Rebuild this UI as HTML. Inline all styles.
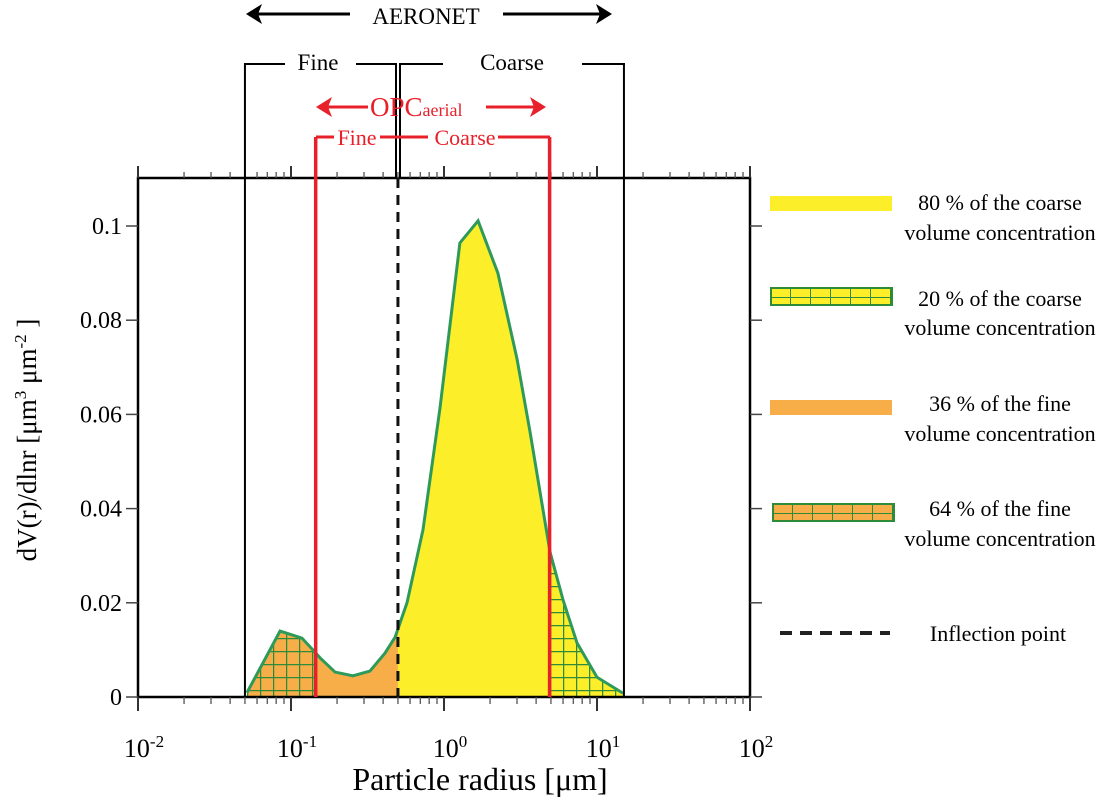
<!DOCTYPE html>
<html><head><meta charset="utf-8">
<style>
body{margin:0;background:#fff;width:1115px;height:801px;overflow:hidden}
svg text, text, tspan{font-family:"Liberation Serif","DejaVu Serif",serif}
</style></head>
<body>
<svg id="chart" width="1115" height="801" viewBox="0 0 1115 801" xmlns="http://www.w3.org/2000/svg" font-family="Liberation Serif, serif">
<defs>
<pattern id="hatchO" patternUnits="userSpaceOnUse" width="13" height="13" x="0" y="1">
<rect width="13" height="13" fill="#f8ae48"/><path d="M0 0H13M0 0V13" stroke="#2e8b3a" stroke-width="2.5"/>
</pattern>
<pattern id="hatchY" patternUnits="userSpaceOnUse" width="13" height="13" x="4" y="1">
<rect width="13" height="13" fill="#fdee2a"/><path d="M0 0H13M0 0V13" stroke="#2e8b3a" stroke-width="2.5"/>
</pattern>
<pattern id="legO" patternUnits="userSpaceOnUse" width="20" height="9" x="772" y="504">
<rect width="20" height="9" fill="#f8ae48"/><path d="M0 0H20M0 0V9" stroke="#2e8b3a" stroke-width="2"/>
</pattern>
<pattern id="legY" patternUnits="userSpaceOnUse" width="20" height="9" x="770" y="288">
<rect width="20" height="9" fill="#fdee2a"/><path d="M0 0H20M0 0V9" stroke="#2e8b3a" stroke-width="2"/>
</pattern>
</defs>
<g id="plot"></g>
</svg>
<script>
// data
const radii = [0.0515,0.0848,0.118,0.139,0.155,0.194,0.254,0.328,0.411,0.479,0.573,0.729,0.942,1.27,1.67,2.25,3.0,3.65,4.93,6.0,7.4,10,14.8];
const dvdlnr = [0.0009,0.0140,0.0125,0.0100,0.0083,0.0053,0.0045,0.0055,0.0093,0.0127,0.0200,0.0355,0.0614,0.0964,0.1011,0.0900,0.0718,0.0563,0.0308,0.0206,0.0115,0.0042,0.0008];
const yTicks = [0,0.02,0.04,0.06,0.08,0.1];
const yTickLabels = ["0","0.02","0.04","0.06","0.08","0.1"];
const xDecades = [-2,-1,0,1,2];
const aeronetBounds = [0.05,0.5,15];
const opcBounds = [0.145,0.5,4.9];
const inflection = 0.5;

const NS="http://www.w3.org/2000/svg";
const X0=138,X1=750,Y0=697,YT=178;
const xs=r=>X0+(Math.log10(r)+2)*(X1-X0)/4;
const ys=v=>Y0-v*4710;
const g=document.getElementById('plot');
function mk(tag,attrs,parent){const e=document.createElementNS(NS,tag);for(const k in attrs)e.setAttribute(k,attrs[k]);(parent||g).appendChild(e);return e;}

const pts=radii.map((r,i)=>xs(r)+','+ys(dvdlnr[i])).join(' ');
const areaPts=xs(radii[0])+','+Y0+' '+pts+' '+xs(radii[radii.length-1])+','+Y0;
const regions=[[aeronetBounds[0],opcBounds[0],'url(#hatchO)','fine-64-region'],[opcBounds[0],inflection,'#f8ae48','fine-36-region'],[inflection,opcBounds[2],'#fdee2a','coarse-80-region'],[opcBounds[2],aeronetBounds[2],'url(#hatchY)','coarse-20-region']];
regions.forEach((rg,i)=>{
  const cp=mk('clipPath',{id:'cp'+i});
  mk('rect',{x:xs(rg[0]),y:0,width:xs(rg[1])-xs(rg[0]),height:801},cp);
  const p=mk('polygon',{points:areaPts,fill:rg[2],'clip-path':'url(#cp'+i+')'});
  
  
});
const line=mk('polyline',{points:pts,fill:'none',stroke:'#2e9a5a','stroke-width':3});



const fr=mk('rect',{x:X0,y:YT,width:X1-X0,height:Y0-YT,fill:'none',stroke:'#000','stroke-width':2.5});



yTicks.forEach((v,i)=>{
  mk('line',{x1:X0-12,x2:X0,y1:ys(v),y2:ys(v),stroke:'#444','stroke-width':1.5});
  mk('line',{x1:X1,x2:X1+12,y1:ys(v),y2:ys(v),stroke:'#444','stroke-width':1.5});
  const t=mk('text',{x:X0-16,y:ys(v)+8,'text-anchor':'end','font-size':24,'font-family':'Liberation Serif, serif'});
  t.textContent=yTickLabels[i];
  
  
});
xDecades.forEach((d,i)=>{
  const x=xs(Math.pow(10,d));
  mk('line',{x1:x,x2:x,y1:Y0,y2:Y0+14,stroke:'#333','stroke-width':2});
  mk('line',{x1:x,x2:x,y1:YT,y2:YT-12,stroke:'#333','stroke-width':2});
  const t=mk('text',{x:x+6,y:Y0+60,'text-anchor':'middle','font-size':26,'font-family':'Liberation Serif, serif'});
  t.textContent='10';
  const s=mk('tspan',{dy:-10,'font-size':17},t);s.textContent=String(d);
  
  
  if(i<xDecades.length-1)for(let m=2;m<10;m++){
    const xm=xs(m*Math.pow(10,d));
    mk('line',{x1:xm,x2:xm,y1:Y0,y2:Y0+7,stroke:'#555','stroke-width':1.3});
    mk('line',{x1:xm,x2:xm,y1:YT,y2:YT-6,stroke:'#555','stroke-width':1.3});
  }
});

[[aeronetBounds[0],63],[aeronetBounds[2],63]].forEach(b=>{const l=mk('line',{x1:xs(b[0]),x2:xs(b[0]),y1:b[1],y2:Y0,stroke:'#000','stroke-width':2});});
[opcBounds[0],opcBounds[2]].forEach(b=>{const l=mk('line',{x1:xs(b),x2:xs(b),y1:137,y2:Y0,stroke:'#e8202a','stroke-width':3.5});});
const inf=mk('line',{x1:xs(inflection),x2:xs(inflection),y1:YT,y2:Y0,stroke:'#111','stroke-width':3,'stroke-dasharray':'10,7'});


</script>
<svg style="position:absolute;left:0;top:0" width="1115" height="801" font-family="Liberation Serif, serif">
<g stroke="#000" stroke-width="3" fill="#000">
<line x1="256" y1="14" x2="350" y2="14"/><path d="M246 14 L262 4 L258 14 L262 24Z" stroke="none"/>
<line x1="503" y1="14" x2="600" y2="14"/><path d="M612 14 L596 4 L600 14 L596 24Z" stroke="none"/>
</g>
<text x="426" y="24" text-anchor="middle" font-size="23" font-family="Liberation Serif, serif">AERONET</text>
<g stroke="#000" stroke-width="2" fill="none">
<path d="M245 64 H285"/><path d="M356 64 H396 V178"/><path d="M400 178 V64 H443"/><path d="M582 64 H625"/>
</g>
<text x="318" y="70" text-anchor="middle" font-size="23" font-family="Liberation Serif, serif">Fine</text>
<text x="512" y="70" text-anchor="middle" font-size="23" font-family="Liberation Serif, serif">Coarse</text>
<g stroke="#e8202a" stroke-width="3" fill="#e8202a">
<line x1="324" y1="107" x2="368" y2="107"/><path d="M316 107 L332 97 L328 107 L332 117Z" stroke="none"/>
<line x1="486" y1="107" x2="536" y2="107"/><path d="M546 107 L530 97 L534 107 L530 117Z" stroke="none"/>
</g>
<text x="370" y="116" font-size="27" fill="#e8202a" font-family="Liberation Serif, serif">OPC<tspan font-size="18">aerial</tspan></text>
<g stroke="#e8202a" stroke-width="3" fill="none">
<path d="M316 137 H334"/><path d="M380 137 H428"/><path d="M498 137 H550"/>
</g>
<text x="357" y="145" text-anchor="middle" font-size="22" fill="#e8202a" font-family="Liberation Serif, serif">Fine</text>
<text x="465" y="145" text-anchor="middle" font-size="22" fill="#e8202a" font-family="Liberation Serif, serif">Coarse</text>
<text x="480" y="790" text-anchor="middle" font-size="32" font-family="Liberation Serif, serif">Particle radius [μm]</text>
<text transform="translate(36,440) rotate(-90)" text-anchor="middle" font-size="27" font-family="Liberation Serif, serif">dV(r)/dlnr [μm<tspan dy="-10" font-size="17">3</tspan><tspan dy="10"> μm</tspan><tspan dy="-10" font-size="17">-2</tspan><tspan dy="10"> ]</tspan></text>
<g font-size="22" font-family="Liberation Serif, serif">
<rect x="770" y="196" width="122" height="15" fill="#fdee2a"/>
<text x="1000" y="210" text-anchor="middle">80 % of the coarse</text><text x="1000" y="240" text-anchor="middle">volume concentration</text>
<rect x="771" y="288" width="121" height="17" fill="url(#legY)" stroke="#2e8b3a" stroke-width="2"/>
<text x="1000" y="306" text-anchor="middle">20 % of the coarse</text><text x="1000" y="335" text-anchor="middle">volume concentration</text>
<rect x="770" y="400" width="122" height="15" fill="#f8ae48"/>
<text x="1000" y="411" text-anchor="middle">36 % of the fine</text><text x="1000" y="441" text-anchor="middle">volume concentration</text>
<rect x="773" y="504" width="121" height="17" fill="url(#legO)" stroke="#2e8b3a" stroke-width="2"/>
<text x="1000" y="516" text-anchor="middle">64 % of the fine</text><text x="1000" y="546" text-anchor="middle">volume concentration</text>
<line x1="780" y1="633" x2="890" y2="633" stroke="#222" stroke-width="4" stroke-dasharray="12,8"/>
<text x="998" y="641" text-anchor="middle">Inflection point</text>
</g>
</svg>
</body></html>
